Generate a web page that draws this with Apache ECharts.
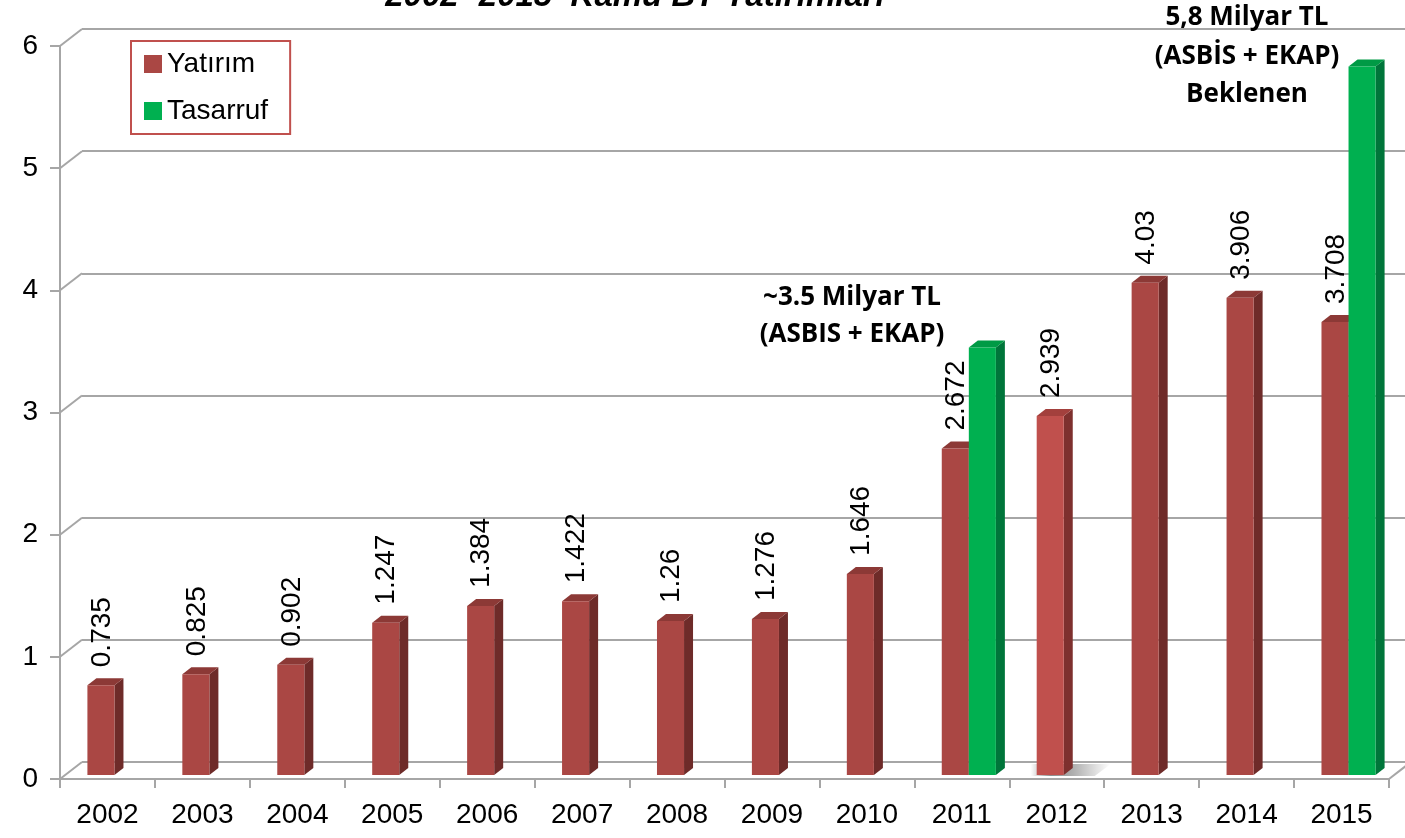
<!DOCTYPE html>
<html>
<head>
<meta charset="utf-8">
<script src="https://cdn.jsdelivr.net/npm/echarts@6.0.0/dist/echarts.min.js"></script>
<style>
html,body{margin:0;padding:0;background:#fff;}
#chart{width:1405px;height:838px;}
</style>
</head>
<body>
<div id="chart"></div>
<script>
// ---- data ----
const years = ['2002','2003','2004','2005','2006','2007','2008','2009','2010','2011','2012','2013','2014','2015'];
const yatirim = [0.735, 0.825, 0.902, 1.247, 1.384, 1.422, 1.26, 1.276, 1.646, 2.672, 2.939, 4.03, 3.906, 3.708];
const tasarruf = [null, null, null, null, null, null, null, null, null, 3.5, null, null, null, 5.8];
const yTicks = [0, 1, 2, 3, 4, 5, 6];
const seriesNames = ['Yatırım', 'Tasarruf'];
const titleText = '2002- 2015  Kamu BT Yatırımları';
const note2011 = ['~3.5 Milyar TL', '(ASBIS + EKAP)'];
const note2015 = ['5,8 Milyar TL', '(ASBİS + EKAP)', 'Beklenen'];
const highlightYear = '2012';

// ---- styles ----
const RED = {front:'#AA4744', side:'#6E2B29', top:'#8C3936'};
const RED_HI = {front:'#C0504D', side:'#7E302E', top:'#A3403D'};
const GREEN = {front:'#00B050', side:'#00753A', top:'#009A45'};
const DX = 9, DY = 7;
const GRID_COLOR = '#A6A6A6';
const AXIS_FONT = '"Liberation Sans", Arial, sans-serif';

function barRender(pal, side, showLabel){
  return function(params, api){
    const v = api.value(1);
    if (v === null || v === undefined || isNaN(v)) return;
    const idx = api.value(0);
    const p = api.coord([idx, v]);
    const p0 = api.coord([idx, 0]);
    const band = api.size([1, 0])[0];
    const w = band * 0.285;
    const x0 = side < 0 ? p[0] - w : p[0];
    const x1 = x0 + w;
    const yt = p[1], yb = p0[1];
    const hi = (years[idx] === highlightYear && side < 0);
    const c = hi ? RED_HI : pal;
    const children = [];
    if (hi){
      children.push({type:'polygon',
        shape:{points:[[x0-6,yb-DY-4],[x1+DX+38,yb-DY-4],[x1+DX+22,yb+1],[x0-6,yb+1]]},
        style:{fill:new echarts.graphic.LinearGradient(0,0,1,0,[
          {offset:0, color:'rgba(0,0,0,0.0)'},
          {offset:0.25, color:'rgba(0,0,0,0.45)'},
          {offset:0.55, color:'rgba(0,0,0,0.3)'},
          {offset:1, color:'rgba(0,0,0,0)'}])}});
    }
    children.push(
      {type:'polygon', shape:{points:[[x1,yt],[x1+DX,yt-DY],[x1+DX,yb-DY],[x1,yb]]}, style:{fill:c.side}},
      {type:'polygon', shape:{points:[[x0,yt],[x1,yt],[x1+DX,yt-DY],[x0+DX,yt-DY]]}, style:{fill:c.top}},
      {type:'rect', shape:{x:x0, y:yt, width:w, height:yb-yt}, style:{fill:c.front}}
    );
    if (showLabel){
      children.push({type:'text', x:(x0+x1)/2 + 1, y:yt - 18, rotation:Math.PI/2,
        style:{text:String(v), font:'28px ' + AXIS_FONT, fill:'#000', align:'left', verticalAlign:'middle'}});
    }
    return {type:'group', children:children};
  };
}

function diagRender(params, api){
  const v = api.value(0);
  const band = api.size([1, 0])[0];
  const p = api.coord([0, v]);
  const xl = p[0] - band/2;
  const children = [{type:'line', shape:{x1:xl, y1:p[1], x2:xl+22, y2:p[1]-17}, style:{stroke:GRID_COLOR, lineWidth:2}}];
  if (v === 0){
    const pr = api.coord([years.length-1, 0]);
    const xr = pr[0] + band/2;
    children.push({type:'line', shape:{x1:xr, y1:pr[1], x2:xr+22, y2:pr[1]-17}, style:{stroke:GRID_COLOR, lineWidth:2}});
  }
  return {type:'group', children:children};
}

const chart = echarts.init(document.getElementById('chart'), null, {renderer:'canvas'});
const boldFont = 'bold 26px "Open Sans", Lato, sans-serif';
const option = {
  animation:false,
  backgroundColor:'#fff',
  grid:[
    {left:60, right:16, top:46, bottom:59},   // front axes
    {left:82, right:0, top:29, bottom:76},    // back wall
    {left:67, right:9, top:42, bottom:63}     // bar plane
  ],
  xAxis:[
    {gridIndex:0, type:'category', data:years, boundaryGap:true,
      axisLine:{lineStyle:{color:GRID_COLOR, width:2}},
      axisTick:{show:true, length:9, lineStyle:{color:GRID_COLOR, width:2}, alignWithLabel:false},
      axisLabel:{color:'#000', fontSize:28, fontFamily:AXIS_FONT, margin:22}},
    {gridIndex:1, type:'category', data:years, show:false},
    {gridIndex:2, type:'category', data:years, show:false}
  ],
  yAxis:[
    {gridIndex:0, type:'value', min:0, max:6, interval:1,
      axisLine:{show:true, lineStyle:{color:GRID_COLOR, width:2}},
      axisTick:{show:true, length:10, lineStyle:{color:GRID_COLOR, width:2}},
      splitLine:{show:false},
      axisLabel:{color:'#000', fontSize:28, fontFamily:AXIS_FONT, margin:22}},
    {gridIndex:1, type:'value', min:0, max:6, interval:1,
      axisLine:{show:false}, axisTick:{show:false}, axisLabel:{show:false},
      splitLine:{show:true, lineStyle:{color:GRID_COLOR, width:2}}},
    {gridIndex:2, type:'value', min:0, max:6, interval:1, show:false, splitLine:{show:false}}
  ],
  legend:{
    data:seriesNames, orient:'vertical', left:131, top:41,
    icon:'rect', itemWidth:18, itemHeight:18, itemGap:19,
    borderColor:'#C0504D', borderWidth:2, padding:[9, 22, 9, 13],
    backgroundColor:'#fff',
    textStyle:{color:'#000', fontSize:28, fontFamily:AXIS_FONT}
  },
  series:[
    {type:'custom', name:'diag', xAxisIndex:0, yAxisIndex:0, data:yTicks.map(v=>[v]), encode:{y:0},
      renderItem:diagRender, silent:true, z:1},
    {type:'custom', name:seriesNames[0], xAxisIndex:2, yAxisIndex:2, itemStyle:{color:RED.front},
      data:years.map((y,i)=>[i, yatirim[i]]), encode:{x:0, y:1}, renderItem:barRender(RED, -1, true), z:3},
    {type:'custom', name:seriesNames[1], xAxisIndex:2, yAxisIndex:2, itemStyle:{color:GREEN.front},
      data:years.map((y,i)=>[i, tasarruf[i] === null ? NaN : tasarruf[i]]), encode:{x:0, y:1}, renderItem:barRender(GREEN, 1, false), z:4}
  ],
  graphic:[
    {type:'text', x:635, y:13, z:10, style:{text:titleText, font:'italic bold 33px ' + AXIS_FONT, fill:'#000', align:'center', verticalAlign:'bottom'}},
    {type:'text', x:852, y:298, z:10, style:{text:note2011[0], font:boldFont, fill:'#000', align:'center', verticalAlign:'middle'}},
    {type:'text', x:852, y:335, z:10, style:{text:note2011[1], font:boldFont, fill:'#000', align:'center', verticalAlign:'middle'}},
    {type:'text', x:1247, y:18, z:10, style:{text:note2015[0], font:boldFont, fill:'#000', align:'center', verticalAlign:'middle'}},
    {type:'text', x:1247, y:57, z:10, style:{text:note2015[1], font:boldFont, fill:'#000', align:'center', verticalAlign:'middle'}},
    {type:'text', x:1247, y:95, z:10, style:{text:note2015[2], font:boldFont, fill:'#000', align:'center', verticalAlign:'middle'}}
  ]
};
chart.setOption(option);
</script>
</body>
</html>
